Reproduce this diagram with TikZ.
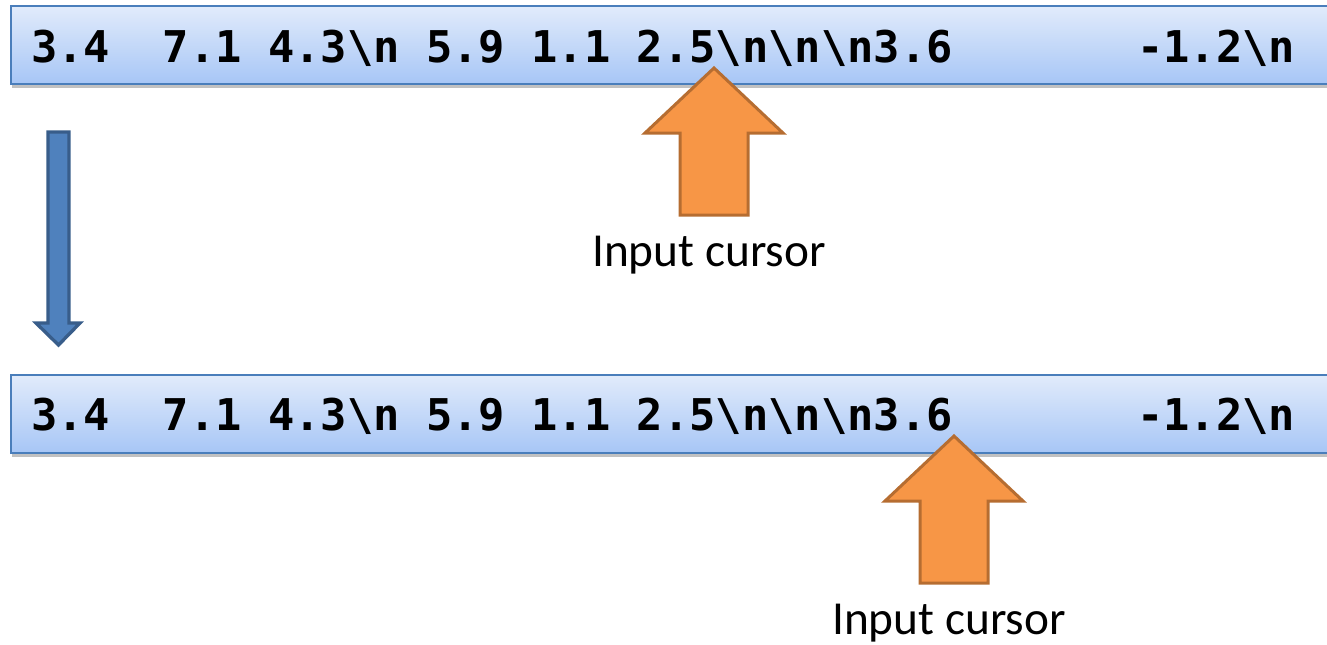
\documentclass[tikz,border=0pt]{standalone}
\usepackage{fontspec}
\setmainfont{Carlito}
\newfontfamily\codefont{DejaVu Sans Mono}
\usetikzlibrary{positioning,shadows}

\definecolor{bartop}{HTML}{E1EBFB}
\definecolor{barbottom}{HTML}{A7C6F6}
\definecolor{barline}{HTML}{4A7EBB}
\definecolor{cursorfill}{HTML}{F79646}
\definecolor{cursorline}{HTML}{B66D31}
\definecolor{stepfill}{HTML}{4F81BD}
\definecolor{stepline}{HTML}{385D8A}

\newcommand{\bsn}{\textbackslash n}

\tikzset{
  bar/.style={draw=barline, line width=1.5pt, top color=bartop, bottom color=barbottom,
    minimum width=997.5pt, minimum height=58.5pt, inner sep=0pt, anchor=north west,
    drop shadow={shadow xshift=1pt, shadow yshift=-3pt, opacity=.35, fill=black!70}},
  stream/.style={font=\codefont\bfseries\fontsize{32.8}{36}\selectfont, inner sep=0pt, anchor=base west},
  cursor/.style={draw=cursorline, fill=cursorfill, line width=2.25pt, line join=miter},
  cursortext/.style={font=\fontsize{35.5}{40}\selectfont, inner sep=0pt},
  down/.style={draw=stepline, fill=stepfill, line width=2.5pt, line join=miter}
}

\begin{document}
\begin{tikzpicture}[x=0.75pt,y=-0.75pt]
\useasboundingbox (0,0) rectangle (1327,644);

% the stream before and after reading
\node[bar](barA) at (10,5){};
\node[stream](textA) at (31,62){3.4~~7.1~4.3\bsn~5.9~1.1~2.5\bsn\bsn\bsn3.6~~~~~~~-1.2\bsn};
\node[bar](barB) at (10,374){};
\node[stream](textB) at (31,430){3.4~~7.1~4.3\bsn~5.9~1.1~2.5\bsn\bsn\bsn3.6~~~~~~~-1.2\bsn};

% step arrow
\draw[down] (48,132) -- (69,132) -- (69,323) -- (80,323) -- (58.5,345)
            -- (36,323) -- (48,323) -- cycle;

% cursor arrows with their captions
\foreach \x/\y/\n in {714/68/A, 954/436/B}{
  \draw[cursor] (\x,\y) coordinate (tip\n) -- ++(69,65) -- ++(-35,0) -- ++(0,82)
        coordinate (tail\n) -- ++(-68,0) -- ++(0,-82) -- ++(-35,0) -- cycle;
  \node[cursortext, below=15.5pt of tip\n |- tail\n, xshift=-3.75pt](input\n){Input cursor};
}
\end{tikzpicture}
\end{document}
